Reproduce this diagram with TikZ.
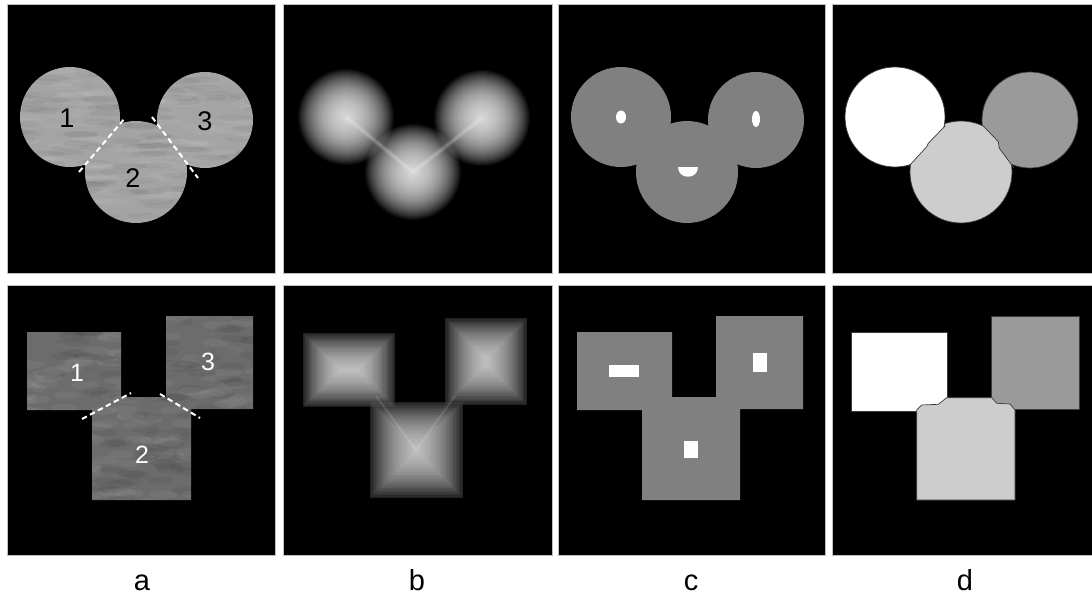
\documentclass[tikz,border=0pt]{standalone}
\usepackage{fontspec}
\setmainfont{Liberation Sans}
\definecolor{agray}{HTML}{A4A4A4}
\definecolor{asqgray}{HTML}{6C6C6C}
\definecolor{cgray}{HTML}{808080}
\definecolor{dlight}{HTML}{CDCDCD}
\definecolor{dmid}{HTML}{9A9A9A}
\definecolor{edgecol}{HTML}{3A3A3A}
\tikzset{
  panel/.style={fill=black, draw=gray!50, line width=0.8pt},
  sepline/.style={draw=white, line width=2pt, dash pattern=on 5.5pt off 3.5pt},
  numtop/.style={font=\fontsize{27}{27}\selectfont, text=black, inner sep=0pt},
  numbot/.style={font=\fontsize{25}{25}\selectfont, text=white, inner sep=0pt},
  caption/.style={font=\fontsize{29}{29}\selectfont, anchor=base, inner sep=0pt},
  outl/.style={draw=edgecol, line width=0.7pt},
  glow/.style={fill=white, opacity=0.045},
}
\begin{document}
\begin{tikzpicture}[x=1pt,y=-1pt]
\useasboundingbox (0,0) rectangle (1092,596);
\fill[white] (0,0) rectangle (1092,596);

% ---------- panels ----------
\draw[panel] (7,4) rectangle (275,273);
\draw[panel] (7,285) rectangle (275,555);
\draw[panel] (283,4) rectangle (552,273);
\draw[panel] (283,285) rectangle (552,555);
\draw[panel] (558,4) rectangle (825,273);
\draw[panel] (558,285) rectangle (825,555);
\draw[panel] (832,4) rectangle (1095,273);
\draw[panel] (832,285) rectangle (1095,555);

% ---------- a (top): textured circles ----------
\begin{scope}
  \clip (70,117) circle (50) (205,120) circle (48) (136,172) circle (51);
  \fill[agray] (7,4) rectangle (275,273);
  \pgfmathsetseed{11}
  \foreach \i in {1,...,140}{
    \pgfmathsetmacro\xx{15+250*rnd}
    \pgfmathsetmacro\yy{60+170*rnd}
    \fill[white,opacity=0.05] (\xx,\yy) ellipse (18 and 3);
  }
  \foreach \i in {1,...,140}{
    \pgfmathsetmacro\xx{15+250*rnd}
    \pgfmathsetmacro\yy{60+170*rnd}
    \fill[black,opacity=0.04] (\xx,\yy) ellipse (18 and 3);
  }
\end{scope}
\node[numtop] (a1) at (67,118) {1};
\node[numtop] (a2) at (133,178) {2};
\node[numtop] (a3) at (205,121) {3};
\coordinate (s1a) at (79,172);
\coordinate (s1b) at (125,118);
\coordinate (s2a) at (152,117);
\coordinate (s2b) at (198,178);
\draw[sepline] (s1a) -- (s1b);
\draw[sepline] (s2a) -- (s2b);

% ---------- a (bottom): textured squares ----------
\begin{scope}
  \clip (27,332) rectangle (121,410) (166,316) rectangle (253,409) (92,397) rectangle (191,500);
  \fill[asqgray] (7,285) rectangle (275,555);
  \pgfmathsetseed{23}
  \foreach \i in {1,...,140}{
    \pgfmathsetmacro\xx{20+240*rnd}
    \pgfmathsetmacro\yy{310+195*rnd}
    \fill[white,opacity=0.05] (\xx,\yy) ellipse (14 and 4);
  }
  \foreach \i in {1,...,140}{
    \pgfmathsetmacro\xx{20+240*rnd}
    \pgfmathsetmacro\yy{310+195*rnd}
    \fill[black,opacity=0.05] (\xx,\yy) ellipse (14 and 4);
  }
\end{scope}
\node[numbot] (b1) at (77,373) {1};
\node[numbot] (b2) at (142,455) {2};
\node[numbot] (b3) at (208,362) {3};
\coordinate (t1a) at (82,419);
\coordinate (t1b) at (131,393);
\coordinate (t2a) at (160,394);
\coordinate (t2b) at (200,418);
\draw[sepline] (t1a) -- (t1b);
\draw[sepline] (t2a) -- (t2b);

% ---------- b (top): blurred discs ----------
\foreach \cx/\cy in {346/117,482/118,413/172}{
  \foreach \r in {48,47,...,1}{
    \fill[glow] (\cx,\cy) circle (\r);
  }
}
\coordinate (g1) at (346,117);
\coordinate (g2) at (413,172);
\coordinate (g3) at (482,118);
\draw[white, opacity=0.12, line width=5pt] (g1) -- (g2) -- (g3);
\draw[white, opacity=0.15, line width=2pt] (g1) -- (g2) -- (g3);

% ---------- b (bottom): pyramid squares ----------
\foreach \xa/\ya/\xb/\yb in {303/333/395/407, 445/318/527/405, 370/402/463/498}{
  \fill[gray!18!black] (\xa,\ya) rectangle (\xb,\yb);
}
\foreach \xa/\ya/\xb/\yb/\m in {303/333/395/407/37, 445/318/527/405/41, 370/402/463/498/46}{
  \foreach \k in {0,...,31}{
    \pgfmathsetmacro\d{\k*\m/32}
    \fill[white,opacity=0.045] ({\xa+\d},{\ya+\d}) rectangle ({\xb-\d},{\yb-\d});
  }
}
\coordinate (h1) at (376,396);
\coordinate (h2) at (416,450);
\coordinate (h3) at (455,396);
\draw[white, opacity=0.12, line width=2pt] (h1) -- (h2) -- (h3);

% ---------- c (top): segmented circles with seeds ----------
\begin{scope}[shift={(551,0)}]
  \fill[cgray] (70,117) circle (50) (205,120) circle (48) (136,172) circle (51);
  \fill[white] (70,117) ellipse (5 and 6.5);
  \fill[white] (205,119) ellipse (4 and 8);
  \fill[white] (127,167) -- (147,167) .. controls (147,180) and (127,180) .. (127,167) -- cycle;
\end{scope}

% ---------- c (bottom) ----------
\begin{scope}[shift={(551,0)}]
  \fill[cgray] (26,332) rectangle (121,410) (165,316) rectangle (252,409) (91,397) rectangle (189,500);
  \fill[white] (58,365) rectangle (88,377);
  \fill[white] (202,353) rectangle (216,372);
  \fill[white] (133,441) rectangle (147,458);
\end{scope}

% ---------- d (top): labelled regions ----------
\begin{scope}[shift={(825,0)}]
  \filldraw[fill=white, outl] (70,117) circle (50);
  \filldraw[fill=dmid, outl] (205,120) circle (48);
  \begin{scope}
    \clip (40,260) -- (40,175) -- (84,166) -- (101.7,146.7) -- (103.3,143.3) -- (120,126) -- (120,90)
          -- (158,90) -- (158.3,126) -- (173.3,141.7) -- (174.3,148.3) -- (189,168) -- (240,175) -- (240,260) -- cycle;
    \filldraw[fill=dlight, outl] (136,172) circle (51);
  \end{scope}
  \draw[outl] (84,166) -- (101.7,146.7) -- (103.3,143.3) -- (120,126);
  \draw[outl] (158.3,126) -- (173.3,141.7) -- (174.3,148.3) -- (189,168);
\end{scope}

% ---------- d (bottom) ----------
\begin{scope}[shift={(825,0)}]
  \filldraw[fill=white, outl] (26,332) rectangle (122,411);
  \filldraw[fill=dmid, outl] (166,316) rectangle (254,409);
  \filldraw[fill=dlight, outl] (91.7,500) -- (91.7,410) -- (96.7,405) -- (113.3,404.3) -- (121.7,397.7)
     -- (166.7,397.7) -- (171.7,403.3) -- (185,404) -- (190,410) -- (190,500) -- cycle;
\end{scope}

% ---------- captions ----------
\node[caption] (ca) at (142,590) {a};
\node[caption] (cb) at (417,590) {b};
\node[caption] (cc) at (691,590) {c};
\node[caption] (cd) at (965,590) {d};
\end{tikzpicture}
\end{document}
